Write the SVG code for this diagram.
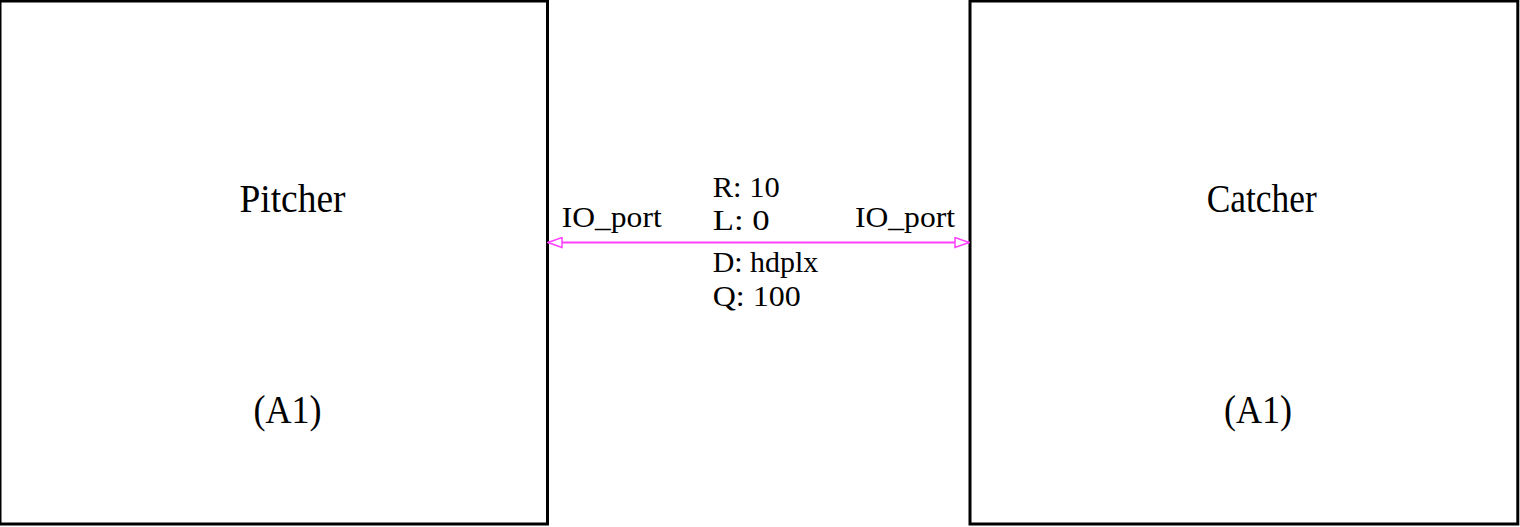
<svg xmlns="http://www.w3.org/2000/svg" width="1520" height="527" viewBox="0 0 1520 527">
<style>
.box{fill:#fff;stroke:#000;stroke-width:3}
.big{font-family:"Liberation Serif","Times New Roman",serif;font-size:39px;fill:#000}
.lbl{font-family:"Liberation Serif","Times New Roman",serif;font-size:29px;fill:#000}
.conn{stroke:#ff40ff;stroke-width:2;fill:none}
</style>
<defs>
<marker id="arr" viewBox="0 0 16 12" refX="15" refY="6" markerWidth="16" markerHeight="12" markerUnits="userSpaceOnUse" orient="auto-start-reverse">
<path d="M1,1 L15,6 L1,11 Z" fill="#fff" stroke="#ff40ff" stroke-width="1.5"/>
</marker>
</defs>
<rect width="1520" height="527" fill="#fff"/>
<g id="pitcher">
<rect class="box" x="0" y="1" width="547.5" height="523"/>
<text class="big" x="292.5" y="211.5" text-anchor="middle" textLength="106" lengthAdjust="spacingAndGlyphs">Pitcher</text>
<text class="big" x="287.5" y="423" text-anchor="middle" textLength="68" lengthAdjust="spacingAndGlyphs">(A1)</text>
</g>
<g id="catcher">
<rect class="box" x="970" y="1" width="547.8" height="523"/>
<text class="big" x="1261.7" y="211.5" text-anchor="middle" textLength="110" lengthAdjust="spacingAndGlyphs">Catcher</text>
<text class="big" x="1258" y="423" text-anchor="middle" textLength="68" lengthAdjust="spacingAndGlyphs">(A1)</text>
</g>
<g id="connectors">
<line class="conn" x1="548" y1="242.5" x2="969" y2="242.5" marker-start="url(#arr)" marker-end="url(#arr)"/>
<text class="lbl" x="561.7" y="226.7" textLength="100" lengthAdjust="spacingAndGlyphs">IO_port</text>
<text class="lbl" x="855" y="226.7" textLength="100" lengthAdjust="spacingAndGlyphs">IO_port</text>
<text class="lbl" x="712.7" y="196.7" textLength="67" lengthAdjust="spacingAndGlyphs">R: 10</text>
<text class="lbl" x="712.7" y="230" textLength="57" lengthAdjust="spacingAndGlyphs">L: 0</text>
<text class="lbl" x="712.7" y="271.7" textLength="105.6" lengthAdjust="spacingAndGlyphs">D: hdplx</text>
<text class="lbl" x="712.7" y="305.5" textLength="88" lengthAdjust="spacingAndGlyphs">Q: 100</text>
</g>
</svg>
